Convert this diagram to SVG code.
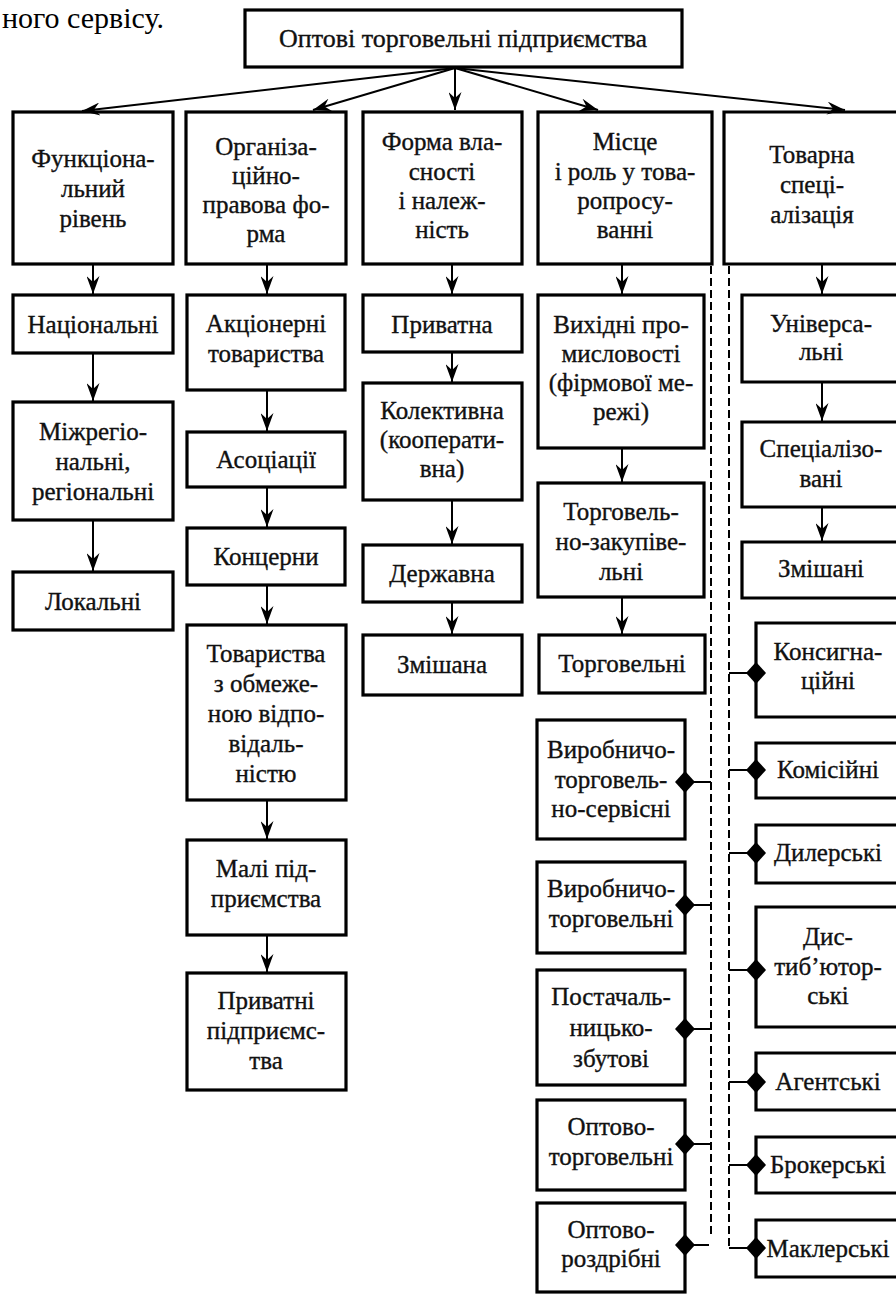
<svg xmlns="http://www.w3.org/2000/svg" width="896" height="1295" viewBox="0 0 896 1295">
<style>
.box{fill:#fff;stroke:#000;stroke-width:3.2}
.obox{fill:#fff;stroke:#000;stroke-width:3.2}
.conn{fill:none;stroke:#000;stroke-width:2}
.dash{fill:none;stroke:#000;stroke-width:2;stroke-dasharray:8 4}
text{font-family:"Liberation Serif","Times New Roman",serif;font-size:25px;fill:#111;stroke:#111;stroke-width:0.35;text-anchor:middle}
.title{font-size:26px}
.frag{font-size:30px;text-anchor:start;fill:#000;stroke:none}
</style>
<defs>
<marker id="arr" markerUnits="userSpaceOnUse" markerWidth="18" markerHeight="13" refX="18" refY="6.5" orient="auto">
<path d="M0,0 L18,6.5 L0,13 L6,6.5 z" fill="#000"/>
</marker>
<marker id="dia" markerUnits="userSpaceOnUse" markerWidth="20" markerHeight="22" refX="10" refY="11" orient="0">
<path d="M0,11 L10,0 L20,11 L10,22 z" fill="#000"/>
</marker>
</defs>
<rect width="896" height="1295" fill="#fff"/>
<text class="frag" x="2" y="28">ного сервісу.</text>

<g id="n-top"><rect class="box" x="245" y="10" width="437" height="57"/><text class="title" x="463" y="47">Оптові торговельні підприємства</text></g>

<g id="n-func"><rect class="box" x="13" y="112" width="160" height="152"/><text><tspan x="93" y="167">Функціона-</tspan><tspan x="93" y="197">льний</tspan><tspan x="93" y="227">рівень</tspan></text></g>
<g id="n-org"><rect class="box" x="186" y="112" width="160" height="152"/><text><tspan x="266" y="155">Організа-</tspan><tspan x="266" y="184">ційно-</tspan><tspan x="266" y="213">правова фо-</tspan><tspan x="266" y="242">рма</tspan></text></g>
<g id="n-vlas"><rect class="box" x="363" y="112" width="159" height="152"/><text><tspan x="442" y="150">Форма вла-</tspan><tspan x="442" y="180">сності</tspan><tspan x="442" y="209">і належ-</tspan><tspan x="442" y="238">ність</tspan></text></g>
<g id="n-mis"><rect class="box" x="538" y="112" width="174" height="152"/><text><tspan x="625" y="150">Місце</tspan><tspan x="625" y="180">і роль у това-</tspan><tspan x="625" y="209">ропросу-</tspan><tspan x="625" y="238">ванні</tspan></text></g>
<g id="n-tov"><path class="obox" d="M897,112 L724,112 L724,264 L897,264"/><text><tspan x="812" y="163">Товарна</tspan><tspan x="812" y="193">спеці-</tspan><tspan x="812" y="223">алізація</tspan></text></g>

<g id="c1a"><rect class="box" x="13" y="295" width="160" height="58"/><text x="93" y="333">Національні</text></g>
<g id="c1b"><rect class="box" x="13" y="402" width="160" height="118"/><text><tspan x="93" y="440">Міжрегіо-</tspan><tspan x="93" y="470">нальні,</tspan><tspan x="93" y="500">регіональні</tspan></text></g>
<g id="c1c"><rect class="box" x="13" y="572" width="160" height="58"/><text x="93" y="610">Локальні</text></g>

<g id="c2a"><rect class="box" x="187" y="295" width="158" height="95"/><text><tspan x="266" y="332">Акціонерні</tspan><tspan x="266" y="362">товариства</tspan></text></g>
<g id="c2b"><rect class="box" x="187" y="432" width="158" height="55"/><text x="266" y="468">Асоціації</text></g>
<g id="c2c"><rect class="box" x="187" y="528" width="158" height="57"/><text x="266" y="565">Концерни</text></g>
<g id="c2d"><rect class="box" x="187" y="625" width="159" height="175"/><text><tspan x="266" y="662">Товариства</tspan><tspan x="266" y="692">з обмеже-</tspan><tspan x="266" y="722">ною відпо-</tspan><tspan x="266" y="752">відаль-</tspan><tspan x="266" y="782">ністю</tspan></text></g>
<g id="c2e"><rect class="box" x="187" y="840" width="159" height="95"/><text><tspan x="266" y="877">Малі під-</tspan><tspan x="266" y="907">приємства</tspan></text></g>
<g id="c2f"><rect class="box" x="187" y="973" width="159" height="117"/><text><tspan x="266" y="1009">Приватні</tspan><tspan x="266" y="1039">підприємс-</tspan><tspan x="266" y="1069">тва</tspan></text></g>

<g id="c3a"><rect class="box" x="363" y="295" width="159" height="57"/><text x="442" y="333">Приватна</text></g>
<g id="c3b"><rect class="box" x="363" y="383" width="159" height="117"/><text><tspan x="442" y="419">Колективна</tspan><tspan x="442" y="448">(кооперати-</tspan><tspan x="442" y="477">вна)</tspan></text></g>
<g id="c3c"><rect class="box" x="363" y="545" width="159" height="57"/><text x="442" y="582">Державна</text></g>
<g id="c3d"><rect class="box" x="363" y="635" width="159" height="60"/><text x="442" y="673">Змішана</text></g>

<g id="c4a"><rect class="box" x="538" y="295" width="166" height="153"/><text><tspan x="621" y="333">Вихідні про-</tspan><tspan x="621" y="362">мисловості</tspan><tspan x="621" y="391">(фірмової ме-</tspan><tspan x="621" y="420">режі)</tspan></text></g>
<g id="c4b"><rect class="box" x="538" y="483" width="166" height="114"/><text><tspan x="621" y="520">Торговель-</tspan><tspan x="621" y="550">но-закупіве-</tspan><tspan x="621" y="580">льні</tspan></text></g>
<g id="c4c"><rect class="box" x="539" y="635" width="166" height="58"/><text x="622" y="672">Торговельні</text></g>

<g id="s1"><rect class="box" x="537" y="720" width="148" height="119"/><text><tspan x="611" y="758">Виробничо-</tspan><tspan x="611" y="788">торговель-</tspan><tspan x="611" y="817">но-сервісні</tspan></text></g>
<g id="s2"><rect class="box" x="537" y="862" width="148" height="91"/><text><tspan x="611" y="897">Виробничо-</tspan><tspan x="611" y="927">торговельні</tspan></text></g>
<g id="s3"><rect class="box" x="537" y="970" width="148" height="115"/><text><tspan x="611" y="1005">Постачаль-</tspan><tspan x="611" y="1036">ницько-</tspan><tspan x="611" y="1067">збутові</tspan></text></g>
<g id="s4"><rect class="box" x="537" y="1100" width="148" height="90"/><text><tspan x="611" y="1135">Оптово-</tspan><tspan x="611" y="1165">торговельні</tspan></text></g>
<g id="s5"><rect class="box" x="537" y="1203" width="148" height="89"/><text><tspan x="611" y="1238">Оптово-</tspan><tspan x="611" y="1267">роздрібні</tspan></text></g>

<g id="r1"><path class="obox" d="M897,295 L742,295 L742,382 L897,382"/><text><tspan x="821" y="332">Універса-</tspan><tspan x="821" y="360">льні</tspan></text></g>
<g id="r2"><path class="obox" d="M897,422 L742,422 L742,507 L897,507"/><text><tspan x="821" y="457">Спеціалізо-</tspan><tspan x="821" y="487">вані</tspan></text></g>
<g id="r3"><path class="obox" d="M897,542 L742,542 L742,598 L897,598"/><text x="821" y="577">Змішані</text></g>
<g id="r4"><path class="obox" d="M897,623 L756,623 L756,717 L897,717"/><text><tspan x="828" y="660">Консигна-</tspan><tspan x="828" y="689">ційні</tspan></text></g>
<g id="r5"><path class="obox" d="M897,743 L756,743 L756,798 L897,798"/><text x="828" y="778">Комісійні</text></g>
<g id="r6"><path class="obox" d="M897,825 L756,825 L756,883 L897,883"/><text x="828" y="861">Дилерські</text></g>
<g id="r7"><path class="obox" d="M897,907 L756,907 L756,1027 L897,1027"/><text><tspan x="828" y="945">Дис-</tspan><tspan x="828" y="975">тиб’ютор-</tspan><tspan x="828" y="1004">ські</tspan></text></g>
<g id="r8"><path class="obox" d="M897,1053 L756,1053 L756,1110 L897,1110"/><text x="828" y="1090">Агентські</text></g>
<g id="r9"><path class="obox" d="M897,1137 L756,1137 L756,1193 L897,1193"/><text x="828" y="1173">Брокерські</text></g>
<g id="r10"><path class="obox" d="M897,1220 L756,1220 L756,1277 L897,1277"/><text x="828" y="1257">Маклерські</text></g>

<g id="connectors">
<path class="conn" marker-end="url(#arr)" d="M455,68 L82,111"/>
<path class="conn" marker-end="url(#arr)" d="M455,68 L313,110"/>
<path class="conn" marker-end="url(#arr)" d="M455,68 L455,110"/>
<path class="conn" marker-end="url(#arr)" d="M455,68 L598,110"/>
<path class="conn" marker-end="url(#arr)" d="M455,68 L845,110"/>
<path class="conn" marker-end="url(#arr)" d="M93,265 L93,294"/>
<path class="conn" marker-end="url(#arr)" d="M93,354 L93,401"/>
<path class="conn" marker-end="url(#arr)" d="M93,521 L93,571"/>
<path class="conn" marker-end="url(#arr)" d="M267,265 L267,294"/>
<path class="conn" marker-end="url(#arr)" d="M267,391 L267,431"/>
<path class="conn" marker-end="url(#arr)" d="M267,488 L267,527"/>
<path class="conn" marker-end="url(#arr)" d="M267,586 L267,624"/>
<path class="conn" marker-end="url(#arr)" d="M267,801 L267,839"/>
<path class="conn" marker-end="url(#arr)" d="M267,936 L267,972"/>
<path class="conn" marker-end="url(#arr)" d="M452,265 L452,294"/>
<path class="conn" marker-end="url(#arr)" d="M452,353 L452,382"/>
<path class="conn" marker-end="url(#arr)" d="M452,501 L452,544"/>
<path class="conn" marker-end="url(#arr)" d="M452,603 L452,634"/>
<path class="conn" marker-end="url(#arr)" d="M622,265 L622,294"/>
<path class="conn" marker-end="url(#arr)" d="M622,449 L622,482"/>
<path class="conn" marker-end="url(#arr)" d="M622,598 L622,634"/>
<path class="conn" marker-end="url(#arr)" d="M822,265 L822,294"/>
<path class="conn" marker-end="url(#arr)" d="M822,383 L822,421"/>
<path class="conn" marker-end="url(#arr)" d="M822,508 L822,541"/>
<path class="dash" d="M711,266 L711,1238"/>
<path class="dash" d="M729,266 L729,1248"/>
<path class="conn" marker-end="url(#dia)" d="M711,782 L685,782"/>
<path class="conn" marker-end="url(#dia)" d="M711,905 L685,905"/>
<path class="conn" marker-end="url(#dia)" d="M711,1029 L685,1029"/>
<path class="conn" marker-end="url(#dia)" d="M711,1144 L685,1144"/>
<path class="conn" marker-end="url(#dia)" d="M709,1245 L685,1245"/>
<path class="conn" marker-end="url(#dia)" d="M729,673 L756,673"/>
<path class="conn" marker-end="url(#dia)" d="M729,770 L756,770"/>
<path class="conn" marker-end="url(#dia)" d="M729,853 L756,853"/>
<path class="conn" marker-end="url(#dia)" d="M729,970 L756,970"/>
<path class="conn" marker-end="url(#dia)" d="M729,1082 L756,1082"/>
<path class="conn" marker-end="url(#dia)" d="M729,1165 L756,1165"/>
<path class="conn" marker-end="url(#dia)" d="M729,1248 L756,1248"/>
</g>
</svg>
